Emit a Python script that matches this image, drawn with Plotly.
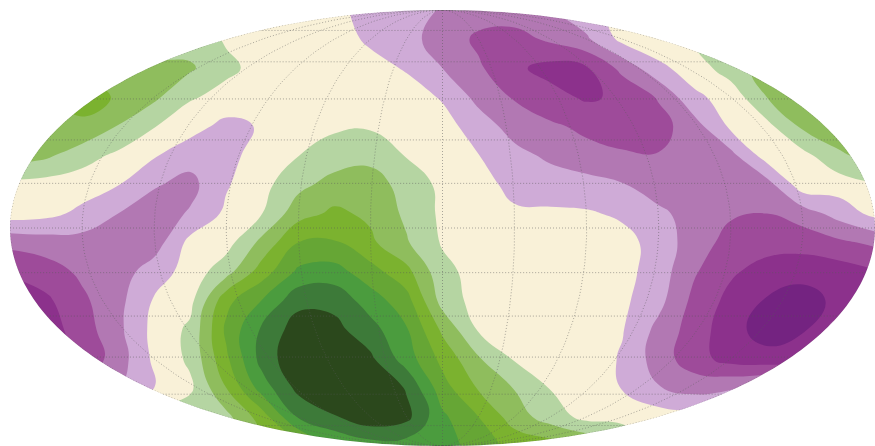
import numpy as np
import plotly.graph_objects as go

# Field, on a regular grid across the map plane (top row first).
# Integer = band number: 0 cream, positive green, negative purple.
r00 = [.6,.7,.8,.8,.7,.5,.3,.1,0,-.3,-.8,-1,-1.6,-2,-1.9,-1.5,-.8,-.1,0,.2,.5,.8,.9,.9,.9]
r01 = [1,1.2,1.3,1.4,1.3,1.0,.4,.2,.1,0,-.7,-1.2,-1.9,-2.7,-2.9,-2.3,-1.65,-.2,.2,.5,1,1.4,1.6,1.6,1.6]
r02 = [2,2.2,2.3,2.2,1.6,1.65,.7,.2,.1,0,-.1,-.6,-1.5,-2.35,-3.3,-3.85,-3.6,-2.2,-.75,0,1.0,1.9,1.9,1.9,1.9]
r03 = [2.3,2.4,2.7,2.45,1.7,.6,.2,0,0,0,0,0,-.6,-1.8,-2.6,-3.15,-3.65,-3.3,-2.4,-.7,-.1,1.5,2.4,2.4,2.4]
r04 = [2.3,2.3,2.4,1.45,.55,-.1,-.8,-.4,0,.35,.4,.2,-.1,-1,-1.9,-2.35,-2.7,-2.9,-2.9,-1.9,-.3,.2,1.7,2.3,2.4]
r05 = [2,1.7,.9,.3,-.4,-1.1,-1.0,.2,.48,.95,1.1,.45,.1,-.48,-1.2,-1.7,-2.2,-2.4,-2.45,-2.2,-1.8,0,.2,1.3,2]
r06 = [.2,.1,0,-.45,-1.4,-1.8,-.6,.2,1.2,1.9,2.1,1,.3,0,-.9,-1,-1.1,-1.45,-2,-2,-2,-1.9,.1,0,.4]
r07 = [0,-.2,-.75,-1.5,-2,-1.4,-.3,.5,2.1,2.7,2.3,1.3,.3,0,-.3,-.35,-.4,-.65,-1.3,-1.9,-2.4,-2.5,-2,-1.1,-.2]
r08 = [-2.2,-2,-1.9,-1.8,-2,-.2,.1,1.8,3.5,3.6,2.7,1.6,.4,0,0,0,-.05,-.2,-.85,-2.1,-2.8,-3.1,-3.1,-2.7,-2.3]
r09 = [-3.4,-2.95,-2.3,-2,-1,-.1,1.1,3,4.7,4.9,3.9,2.8,.8,.1,0,0,0,-.15,-1,-2.4,-3.35,-3.9,-4.1,-4,-3.6]
r10 = [-4,-3.7,-2.7,-1.8,-.4,.2,3.2,4.55,6.2,6.2,5,3.9,1.1,.1,0,0,-.05,-.3,-1.2,-2.8,-3.8,-4.6,-5,-4.2,-4]
r11 = [-4.5,-4,-3,-1.75,-.2,.7,3.7,5.7,7.0,6.8,5.9,4.6,2.3,.4,0,0,0,-.45,-1.8,-3,-4.1,-5,-4.6,-3,-3]
r12 = [-4,-4,-3.3,-2,-.3,.7,3.3,5.9,7.3,7.4,6.7,5,3.2,1.6,.4,.1,0,-.6,-2,-3.1,-3.9,-4.1,-4,-3.5,-3]
r13 = [-2,-2,-2,-1.5,-.5,.3,2.5,5,6.8,7.6,7.6,6.4,3.9,2.4,1.45,.45,.1,-.55,-1.45,-1.9,-1.6,-1.2,-1,-1,-1]
r14 = [0,0,0,0,.5,1.2,1.2,3,5.6,6.4,7.2,6.8,4.7,3.5,2,1,.2,0,0,-.1,-.2,-.2,-.2,-.2,-.2]
r15 = [0,0,0,0,0,.5,1,2,3,4.5,5,5,5,4,3.2,3,2.5,2,.5,0,0,0,0,0,0]
rows = [r00,r01,r02,r03,r04,r05,r06,r07,r08,r09,r10,r11,r12,r13,r14,r15]

band_colors = ["#742381","#8c318c","#9e4b9a","#b278b3","#cfabd7","#f9f1d8",
               "#b5d5a2","#8fbd5d","#7bb22f","#66a635","#4b9c3e","#3d7a39","#2b481c"]

lat_lines = [-75,-60,-45,-30,-15,0,15,30,45,60,75]
lon_lines = [-180,-150,-120,-90,-60,-30,0,30,60,90,120,150,180]

# Map plane: x in [-2, 2], y in [-1, 1]
z = np.array(rows, dtype=float)[::-1]
xg = np.linspace(-2, 2, z.shape[1])
yg = np.linspace(-1, 1, z.shape[0])

cx, cy, sx, sy = 442.5, 228.0, 216.25, 218.0   # plane-to-pixel fit in the 875x446 window
xr = [(0 - cx) / sx, (875 - cx) / sx]
yr = [(cy - 446) / sy, cy / sy]

n = len(band_colors)
cscale = [[i / (n - 1), c] for i, c in enumerate(band_colors)]

fig = go.Figure()
fig.add_trace(go.Contour(
    x=xg, y=yg, z=z, colorscale=cscale, showscale=False, hoverinfo="skip",
    autocontour=False,
    contours=dict(start=-4.5, end=6.5, size=1, coloring="fill", showlines=False),
    line=dict(width=0, smoothing=1.3),
))

def theta_of(lat):
    target = np.pi * np.sin(np.radians(lat))
    t = np.radians(lat) / 1.5
    for _ in range(40):
        t = t - (2*t + np.sin(2*t) - target) / (2 + 2*np.cos(2*t))
    return t

gx, gy = [], []
for la in lat_lines:
    t = theta_of(la)
    gx += [-2*np.cos(t), 2*np.cos(t), None]
    gy += [np.sin(t), np.sin(t), None]
ts = np.linspace(-np.pi/2, np.pi/2, 121)
for lo in lon_lines:
    gx += list(lo/180*2*np.cos(ts)) + [None]
    gy += list(np.sin(ts)) + [None]
fig.add_trace(go.Scatter(x=gx, y=gy, mode="lines", hoverinfo="skip", showlegend=False,
                         line=dict(color="rgba(90,90,90,0.5)", width=1, dash="1px,2px")))

# white mask outside the ellipse
a = np.linspace(0, 2*np.pi, 361)[:-1]
ring = "M" + "L".join(f"{2*np.cos(v):.4f},{np.sin(v):.4f}" for v in a) + "Z"
box = f"M{xr[0]-.1},{yr[0]-.1}L{xr[1]+.1},{yr[0]-.1}L{xr[1]+.1},{yr[1]+.1}L{xr[0]-.1},{yr[1]+.1}Z"
fig.add_shape(type="path", path=box + ring, fillcolor="white", fillrule="evenodd",
              line=dict(width=0), layer="above", xref="x", yref="y")

fig.update_layout(width=875, height=446, margin=dict(l=0, r=0, t=0, b=0),
                  paper_bgcolor="white", plot_bgcolor="white", showlegend=False,
                  xaxis=dict(range=xr, visible=False, fixedrange=True),
                  yaxis=dict(range=yr, visible=False, fixedrange=True))
fig.write_html("out.html", config={"displayModeBar": False},
               post_script="document.body.style.margin='0';document.documentElement.style.overflow='hidden';")
